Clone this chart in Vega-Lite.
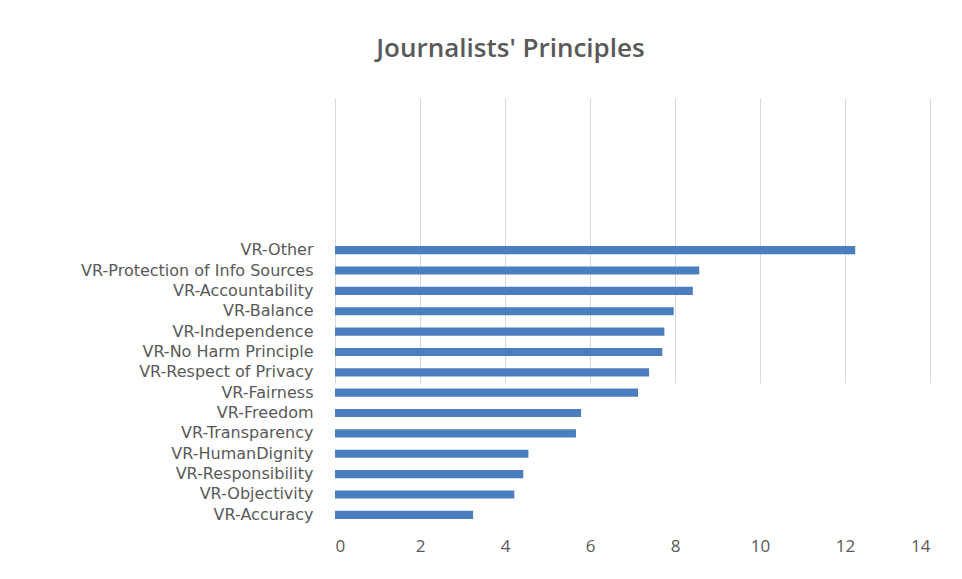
{
  "$schema": "https://vega.github.io/schema/vega-lite/v6.json",
  "autosize": "none",
  "width": 595,
  "height": 427,
  "padding": {"left": 335, "top": 98, "right": 32, "bottom": 54},
  "background": "white",
  "title": {
    "text": "Journalists' Principles",
    "anchor": "middle",
    "frame": "group",
    "dx": -122,
    "offset": 36,
    "font": "Open Sans",
    "fontSize": 26,
    "fontWeight": 600,
    "color": "#595959"
  },
  "data": {
    "values": [
      {"principle": "VR-Other", "value": 12.24},
      {"principle": "VR-Protection of Info Sources", "value": 8.57},
      {"principle": "VR-Accountability", "value": 8.42},
      {"principle": "VR-Balance", "value": 7.97},
      {"principle": "VR-Independence", "value": 7.75},
      {"principle": "VR-No Harm Principle", "value": 7.7},
      {"principle": "VR-Respect of Privacy", "value": 7.39},
      {"principle": "VR-Fairness", "value": 7.13},
      {"principle": "VR-Freedom", "value": 5.79},
      {"principle": "VR-Transparency", "value": 5.67},
      {"principle": "VR-HumanDignity", "value": 4.55},
      {"principle": "VR-Responsibility", "value": 4.43},
      {"principle": "VR-Objectivity", "value": 4.22},
      {"principle": "VR-Accuracy", "value": 3.25}
    ]
  },
  "mark": {"type": "bar", "color": "#4a7ebf"},
  "encoding": {
    "y": {
      "field": "principle",
      "type": "nominal",
      "sort": null,
      "scale": {"range": [142, 427], "paddingInner": 0.6, "paddingOuter": 0.3},
      "axis": {
        "title": null,
        "domain": false,
        "ticks": false,
        "grid": false,
        "labelPadding": 22,
        "labelFont": "DejaVu Sans",
        "labelFontSize": 16,
        "labelColor": "#595959",
        "labelLimit": 400
      }
    },
    "x": {
      "field": "value",
      "type": "quantitative",
      "scale": {"domain": [0, 14], "nice": false},
      "axis": {
        "title": null,
        "values": [0, 2, 4, 6, 8, 10, 12, 14],
        "domain": false,
        "ticks": false,
        "grid": true,
        "gridColor": "#d9d9d9",
        "labelPadding": 13,
        "labelFont": "Open Sans",
        "labelFontSize": 17,
        "labelColor": "#595959"
      }
    }
  },
  "config": {"view": {"stroke": null}}
}
